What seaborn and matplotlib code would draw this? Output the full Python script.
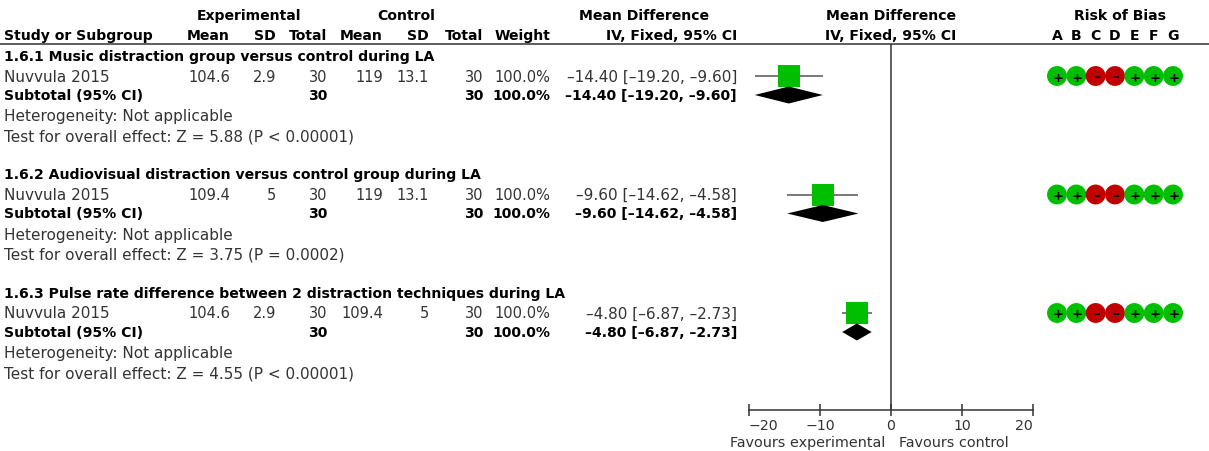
import matplotlib
matplotlib.use("Agg")
import matplotlib.pyplot as plt
import seaborn as sns
import pandas as pd
import numpy as np

# ---------------- data ----------------
subgroups = [
    "1.6.1 Music distraction group versus control during LA",
    "1.6.2 Audiovisual distraction versus control group during LA",
    "1.6.3 Pulse rate difference between 2 distraction techniques during LA",
]
studies = ["Nuvvula 2015", "Nuvvula 2015", "Nuvvula 2015"]
exp_mean = ["104.6", "109.4", "104.6"]
exp_sd = ["2.9", "5", "2.9"]
exp_total = [30, 30, 30]
ctl_mean = ["119", "119", "109.4"]
ctl_sd = ["13.1", "13.1", "5"]
ctl_total = [30, 30, 30]
weights = ["100.0%", "100.0%", "100.0%"]
md_est = [-14.40, -9.60, -4.80]
md_lo = [-19.20, -14.62, -6.87]
md_hi = [-9.60, -4.58, -2.73]
sub_est = [-14.40, -9.60, -4.80]
sub_lo = [-19.20, -14.62, -6.87]
sub_hi = [-9.60, -4.58, -2.73]
heterogeneity = ["Heterogeneity: Not applicable"] * 3
overall_tests = [
    "Test for overall effect: Z = 5.88 (P < 0.00001)",
    "Test for overall effect: Z = 3.75 (P = 0.0002)",
    "Test for overall effect: Z = 4.55 (P < 0.00001)",
]
rob_domains = ["A", "B", "C", "D", "E", "F", "G"]
rob_judgements = [
    ["+", "+", "-", "-", "+", "+", "+"],
    ["+", "+", "-", "-", "+", "+", "+"],
    ["+", "+", "-", "-", "+", "+", "+"],
]
x_ticks = [-20, -10, 0, 10, 20]
favours_left = "Favours experimental"
favours_right = "Favours control"

# ---------------- style ----------------
sns.set_theme(style="white")
plt.rcParams["font.family"] = ["DejaVu Sans"]

W, H = 1209, 452
DPI = 100
fig = plt.figure(figsize=(W / DPI, H / DPI), dpi=DPI)

REG = 11.0
NUM = 10.5
BOLD = 10.1
TXT = "#333333"
GREEN = "#00BF00"
RED = "#C00000"

# background axes in pixel coordinates for the text table
ax_bg = fig.add_axes([0, 0, 1, 1])
ax_bg.set_xlim(0, W)
ax_bg.set_ylim(H, 0)
ax_bg.axis("off")


def t(x, y, s, bold=False, ha="left", size=None, color=None):
    if size is None:
        size = BOLD if bold else REG
    ax_bg.text(x, y, s, ha=ha, va="center", fontsize=size,
               fontweight="bold" if bold else "normal",
               color=color if color else ("black" if bold else TXT))


# layout
Y_TOP, Y_HDR, Y_LINE = 16, 36, 45
GROUP_BASE, GROUP_STEP = 57, 118.5
ROW_OFF = [0, 20, 39, 60, 80]
X_LEFT = 4
col_r = {"em": 230, "esd": 276, "et": 327, "cm": 383, "csd": 429, "ct": 483,
         "w": 550, "ci": 737}

# headers
t(249, Y_TOP, "Experimental", bold=True, ha="center")
t(406, Y_TOP, "Control", bold=True, ha="center")
t(644, Y_TOP, "Mean Difference", bold=True, ha="center")
t(891, Y_TOP, "Mean Difference", bold=True, ha="center")
t(1120, Y_TOP, "Risk of Bias", bold=True, ha="center")
t(X_LEFT, Y_HDR, "Study or Subgroup", bold=True)
for key, lab in [("em", "Mean"), ("esd", "SD"), ("et", "Total"), ("cm", "Mean"),
                 ("csd", "SD"), ("ct", "Total"), ("w", "Weight"),
                 ("ci", "IV, Fixed, 95% CI")]:
    t(col_r[key], Y_HDR, lab, bold=True, ha="right")
t(891, Y_HDR, "IV, Fixed, 95% CI", bold=True, ha="center")
ax_bg.axhline(Y_LINE, color="#333333", lw=1.1)


def fmt_ci(e, lo, hi):
    return f"{e:.2f} [{lo:.2f}, {hi:.2f}]".replace("-", "\u2013")


study_y, sub_y = [], []
for g in range(3):
    base = GROUP_BASE + g * GROUP_STEP
    ys = [base + o for o in ROW_OFF]
    study_y.append(ys[1])
    sub_y.append(ys[2])
    t(X_LEFT, ys[0], subgroups[g], bold=True)
    t(X_LEFT, ys[1], studies[g])
    t(col_r["em"], ys[1], exp_mean[g], ha="right", size=NUM)
    t(col_r["esd"], ys[1], exp_sd[g], ha="right", size=NUM)
    t(col_r["et"], ys[1], str(exp_total[g]), ha="right", size=NUM)
    t(col_r["cm"], ys[1], ctl_mean[g], ha="right", size=NUM)
    t(col_r["csd"], ys[1], ctl_sd[g], ha="right", size=NUM)
    t(col_r["ct"], ys[1], str(ctl_total[g]), ha="right", size=NUM)
    t(col_r["w"], ys[1], weights[g], ha="right", size=NUM)
    t(col_r["ci"], ys[1], fmt_ci(md_est[g], md_lo[g], md_hi[g]), ha="right")
    t(X_LEFT, ys[2], "Subtotal (95% CI)", bold=True)
    t(col_r["et"], ys[2], str(exp_total[g]), bold=True, ha="right")
    t(col_r["ct"], ys[2], str(ctl_total[g]), bold=True, ha="right")
    t(col_r["w"], ys[2], weights[g], bold=True, ha="right")
    t(col_r["ci"], ys[2], fmt_ci(sub_est[g], sub_lo[g], sub_hi[g]), bold=True, ha="right")
    t(X_LEFT, ys[3], heterogeneity[g])
    t(X_LEFT, ys[4], overall_tests[g])

# ---------------- forest axes ----------------
FX0, FX1 = 749, 1033
FY_TOP, FY_AX = Y_LINE, 411
ax_f = fig.add_axes([FX0 / W, (H - FY_AX) / H, (FX1 - FX0) / W, (FY_AX - FY_TOP) / H])
ax_f.set_facecolor("none")
ax_f.set_xlim(x_ticks[0], x_ticks[-1])
ax_f.set_ylim(FY_AX, FY_TOP)

ax_f.axvline(0, color="#333333", lw=1.1, zorder=1)
ax_f.hlines(study_y, md_lo, md_hi, color="#555555", lw=1.1, zorder=2)
df_s = pd.DataFrame({"md": md_est, "y": study_y})
sns.scatterplot(data=df_s, x="md", y="y", marker="s", s=252, color=GREEN,
                linewidth=0, ax=ax_f, zorder=3, legend=False)
DH = 17
for e, lo, hi, y in zip(sub_est, sub_lo, sub_hi, sub_y):
    ax_f.fill([lo, e, hi, e], [y, y - DH / 2, y, y + DH / 2], color="black",
              lw=0, zorder=4)

for s in ["left", "right", "top"]:
    ax_f.spines[s].set_visible(False)
ax_f.spines["bottom"].set_color("#333333")
ax_f.spines["bottom"].set_linewidth(1.1)
ax_f.set_xticks(x_ticks)
ax_f.set_yticks([])
ax_f.tick_params(axis="x", direction="inout", length=8, width=1.1, colors="#333333",
                 labelsize=10.2, pad=1.5, bottom=True)
ax_f.set_xlabel("")
ax_f.set_ylabel("")
ax_f.set_xticklabels([f"{v}".replace("-", "\u2212") for v in x_ticks], color=TXT)
tl = ax_f.get_xticklabels()
tl[0].set_ha("left")
tl[-1].set_ha("right")

t(885, 443, favours_left, ha="right", size=10.4)
t(899, 443, favours_right, ha="left", size=10.4)

# ---------------- risk of bias ----------------
RX0, RX1 = 1047.3, 1182.7
ax_r = fig.add_axes([RX0 / W, 0, (RX1 - RX0) / W, 1])
ax_r.set_facecolor("none")
ax_r.set_xlim(-0.5, len(rob_domains) - 0.5)
ax_r.set_ylim(H, 0)
ax_r.axis("off")
for i, d in enumerate(rob_domains):
    ax_r.text(i, Y_HDR, d, ha="center", va="center", fontsize=BOLD,
              fontweight="bold", color="black")

rows = []
for g in range(3):
    for i, d in enumerate(rob_domains):
        rows.append({"dom": i, "y": study_y[g], "j": rob_judgements[g][i]})
df_r = pd.DataFrame(rows)
sns.scatterplot(data=df_r, x="dom", y="y", hue="j", palette={"+": GREEN, "-": RED},
                s=205, linewidth=0, ax=ax_r, legend=False, zorder=2)
for _, r in df_r.iterrows():
    ax_r.text(r["dom"] + 0.05, r["y"] + 1, "+" if r["j"] == "+" else "\u2013",
              ha="center", va="center", fontsize=9.5, fontweight="bold",
              color="black", zorder=3)
ax_r.set_xlabel("")
ax_r.set_ylabel("")

fig.savefig("out.png", dpi=DPI)
